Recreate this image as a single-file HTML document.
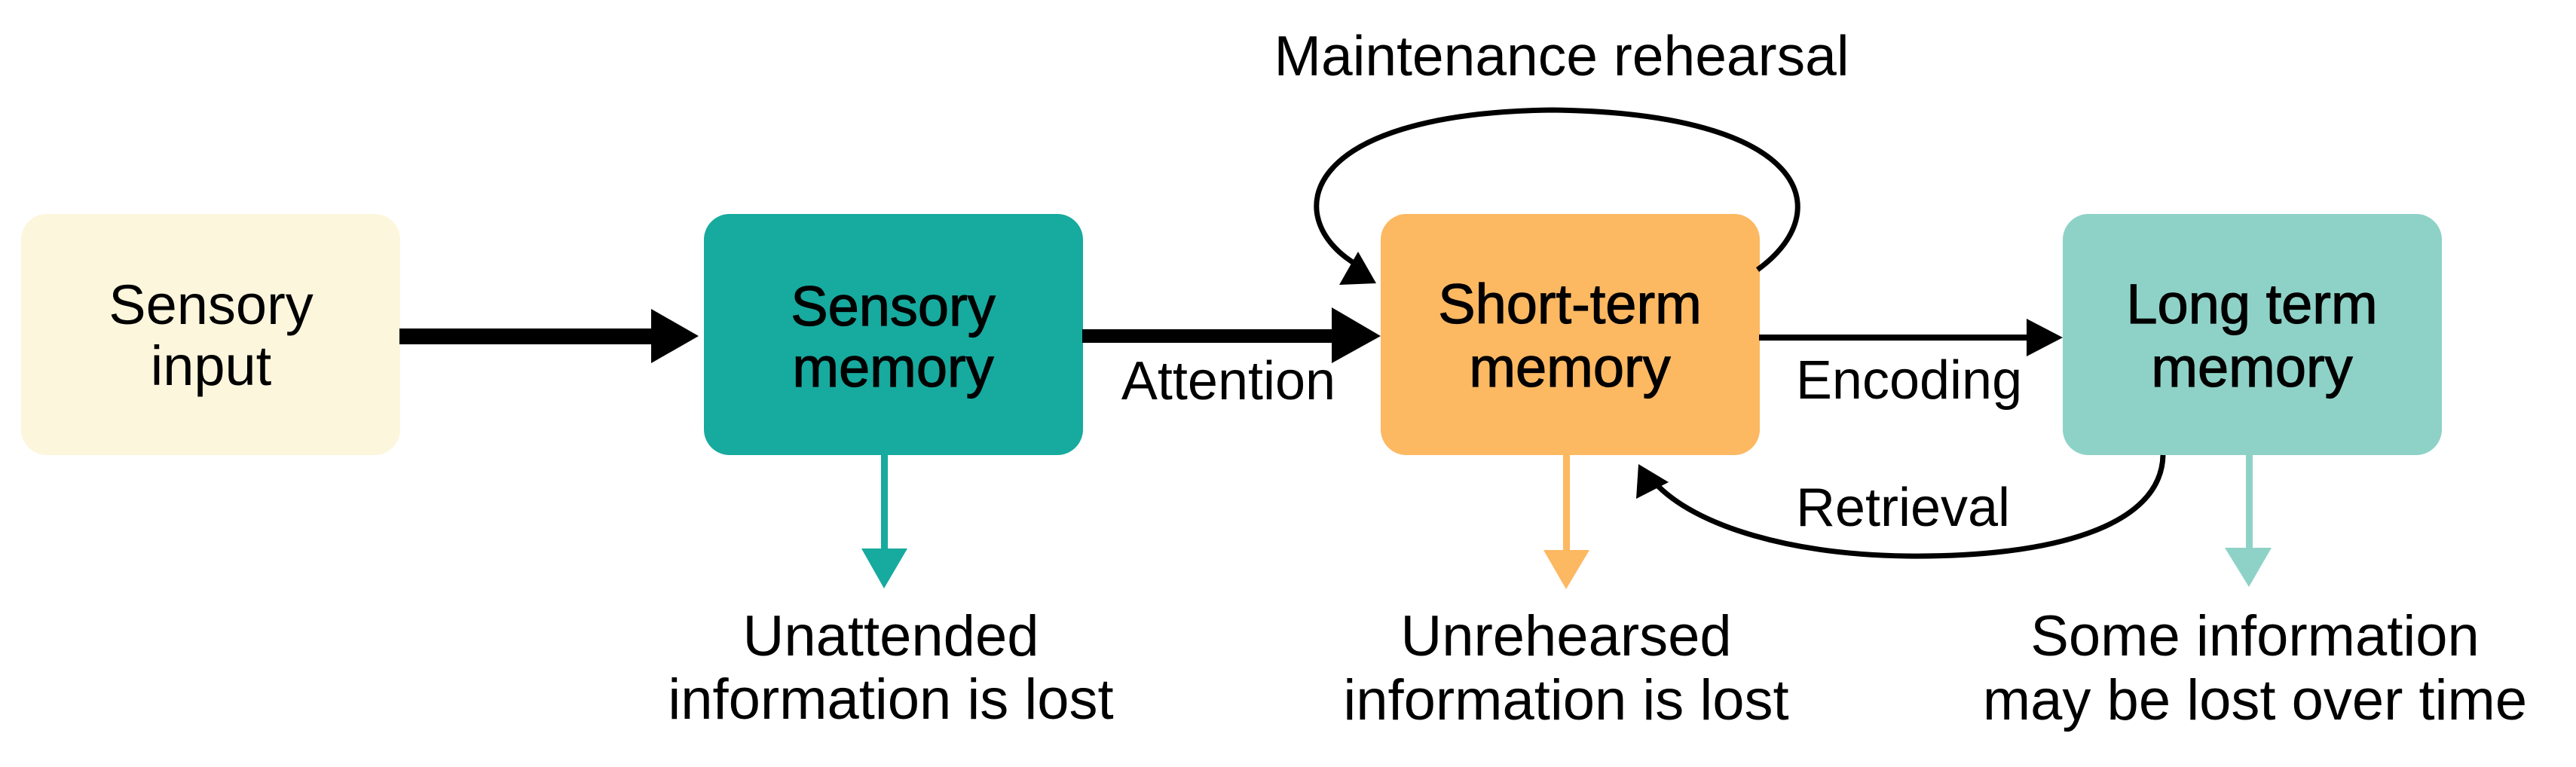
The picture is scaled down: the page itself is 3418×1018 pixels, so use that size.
<!DOCTYPE html>
<html><head><meta charset="utf-8"><style>
html,body{margin:0;padding:0;background:#fff;}
svg{display:block;}
text{font-family:"Liberation Sans",sans-serif;fill:#000;}
</style></head><body>
<svg width="3418" height="1018" viewBox="0 0 3418 1018" xmlns="http://www.w3.org/2000/svg">
<rect x="28" y="284" width="503" height="320" rx="34" fill="#FCF6DC"/>
<rect x="934" y="284" width="503" height="320" rx="34" fill="#17AA9F"/>
<rect x="1832" y="284" width="503" height="320" rx="34" fill="#FDB862"/>
<rect x="2737" y="284" width="503" height="320" rx="34" fill="#8ED2C7"/>

<g font-size="74" text-anchor="middle">
<text x="280" y="430">Sensory</text>
<text x="280" y="511">input</text>
<text x="1185" y="432" stroke="#000" stroke-width="1.2">Sensory</text>
<text x="1185" y="513" stroke="#000" stroke-width="1.2">memory</text>
<text x="2083" y="429" stroke="#000" stroke-width="1.2">Short-term</text>
<text x="2083" y="513" stroke="#000" stroke-width="1.2">memory</text>
<text x="2988" y="429" stroke="#000" stroke-width="1.2">Long term</text>
<text x="2988" y="513" stroke="#000" stroke-width="1.2">memory</text>
</g>

<rect x="530" y="436" width="340" height="21" fill="#000"/>
<polygon points="864,410 927,446 864,482" fill="#000"/>
<rect x="1436" y="437" width="335" height="18" fill="#000"/>
<polygon points="1767,408 1832,446 1767,482" fill="#000"/>
<text x="1630" y="530" font-size="72" text-anchor="middle">Attention</text>

<rect x="2334" y="444" width="360" height="8" fill="#000"/>
<polygon points="2689,423 2737,448 2689,473" fill="#000"/>
<text x="2533" y="529" font-size="72" text-anchor="middle">Encoding</text>

<path d="M 2332 358 C 2440 280 2400 150 2060 146 C 1720 150 1700 290 1798 350" fill="none" stroke="#000" stroke-width="7"/>
<polygon points="1802,334 1777,378 1826,376" fill="#000"/>
<text x="2072" y="100" font-size="75" text-anchor="middle">Maintenance rehearsal</text>

<path d="M 2870 604 C 2868 700 2720 740 2530 738 C 2380 736 2250 700 2195 640" fill="none" stroke="#000" stroke-width="7"/>
<polygon points="2174,616 2171,662 2214,640" fill="#000"/>
<text x="2525" y="698" font-size="72" text-anchor="middle">Retrieval</text>

<rect x="1169" y="603" width="9" height="128" fill="#17AA9F"/>
<polygon points="1143,728 1204,728 1173,781" fill="#17AA9F"/>
<rect x="2074" y="603" width="9" height="130" fill="#FDB862"/>
<polygon points="2048,730 2109,730 2078,782" fill="#FDB862"/>
<rect x="2980" y="603" width="9" height="127" fill="#8ED2C7"/>
<polygon points="2952,727 3014,727 2984,779" fill="#8ED2C7"/>

<g font-size="76" text-anchor="middle">
<text x="1182" y="870">Unattended</text>
<text x="1182" y="954">information is lost</text>
<text x="2078" y="870">Unrehearsed</text>
<text x="2078" y="955">information is lost</text>
<text x="2992" y="870">Some information</text>
<text x="2992" y="955">may be lost over time</text>
</g>
</svg>
</body></html>
